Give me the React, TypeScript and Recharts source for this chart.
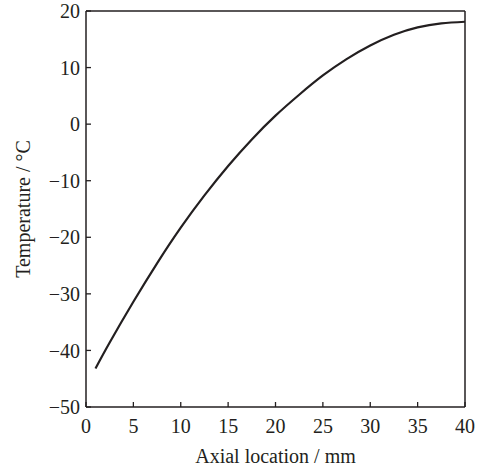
import { Line, LineChart, ReferenceLine, XAxis, YAxis } from "recharts";

// axial position (mm) and temperature (°C)
const axialMm = [1, 2.5, 5, 7.5, 10, 12.5, 15, 17.5, 20, 22.5, 25, 27.5, 30, 32.5, 35, 37.5, 40];
const tempC = [-43.2, -38.6, -31.4, -24.6, -18.3, -12.6, -7.4, -2.7, 1.5, 5.2, 8.6, 11.5, 13.9, 15.8, 17.1, 17.8, 18.1];

const xTicks = [0, 5, 10, 15, 20, 25, 30, 35, 40];
const yTicks = [-50, -40, -30, -20, -10, 0, 10, 20];

const data = axialMm.map((x, i) => ({ x, t: tempC[i] }));

const INK = "#231f20";
const FONT = '"Liberation Serif", "Times New Roman", serif';

function minus(v: number) {
  return String(v).replace("-", "\u2212");
}

export default function App() {
  return (
    <div style={{ width: 481, height: 473 }}>
      <style>{`body{margin:0}`}</style>
      <LineChart
        width={481}
        height={473}
        data={data}
        margin={{ top: 11, right: 16, bottom: 0, left: 0 }}
        style={{ fontFamily: FONT }}
      >
        <XAxis
          dataKey="x"
          type="number"
          domain={[0, 40]}
          ticks={xTicks}
          interval={0}
          height={66}
          tickSize={-5}
          tickMargin={17}
          axisLine={{ stroke: INK, strokeWidth: 1.5 }}
          tickLine={{ stroke: INK, strokeWidth: 1.3 }}
          tick={{ fill: INK, fontSize: 20, fontFamily: FONT }}
          label={() => (
            <text x={275.5} y={463} textAnchor="middle" fill={INK} fontSize={20} fontFamily={FONT}>
              Axial location / mm
            </text>
          )}
        />
        <YAxis
          type="number"
          domain={[-50, 20]}
          ticks={yTicks}
          interval={0}
          width={86}
          tickSize={-5}
          tickMargin={11}
          tickFormatter={minus}
          axisLine={{ stroke: INK, strokeWidth: 1.5 }}
          tickLine={{ stroke: INK, strokeWidth: 1.3 }}
          tick={{ fill: INK, fontSize: 20, fontFamily: FONT }}
          label={() => (
            <text
              x={30}
              y={209}
              textAnchor="middle"
              fill={INK}
              fontSize={20}
              fontFamily={FONT}
              transform="rotate(-90, 30, 209)"
            >
              Temperature / °C
            </text>
          )}
        />
        {/* top and right sides of the frame */}
        <ReferenceLine y={20} stroke={INK} strokeWidth={1.5} />
        <ReferenceLine x={40} stroke={INK} strokeWidth={1.5} />
        <Line
          type="natural"
          dataKey="t"
          stroke={INK}
          strokeWidth={2.2}
          dot={false}
          isAnimationActive={false}
        />
      </LineChart>
    </div>
  );
}
